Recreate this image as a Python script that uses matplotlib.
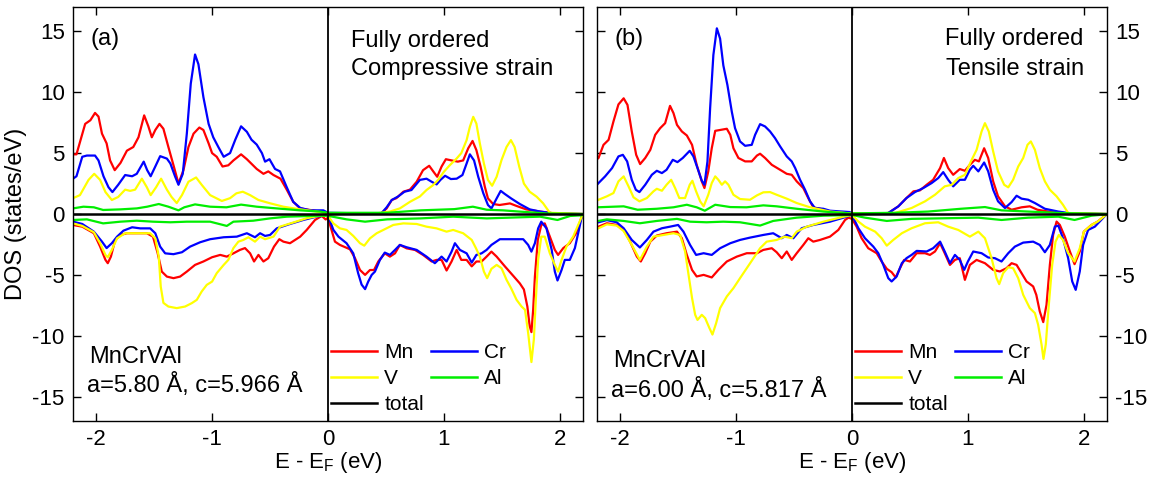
import matplotlib
matplotlib.use("Agg")
import matplotlib.pyplot as plt
from matplotlib.lines import Line2D

plt.rcParams['font.family'] = ['Liberation Sans', 'DejaVu Sans']
plt.rcParams['axes.unicode_minus'] = False
plt.rcParams['mathtext.default'] = 'regular'

# ---------------- data (E - EF in eV, DOS in states/eV) ----------------
A_MN_UP = [(-2.2,4.9),(-2.17,4.9),(-2.095,7.4),(-2.05,7.7),(-2.01,8.3),(-1.98,8.0),(-1.95,6.6),(-1.91,5.8),(-1.88,4.4),(-1.84,3.6),(-1.79,4.2),(-1.735,5.2),(-1.68,5.5),(-1.635,6.3),(-1.586,8.1),(-1.55,7.2),(-1.52,6.3),(-1.49,6.9),(-1.454,7.4),(-1.42,7.0),(-1.377,5.5),(-1.33,3.9),(-1.29,2.5),(-1.247,3.6),(-1.204,5.5),(-1.16,6.6),(-1.11,7.1),(-1.075,6.9),(-1.03,5.8),(-1.0,5.0),(-0.96,4.7),(-0.91,3.9),(-0.86,4.0),(-0.816,4.4),(-0.75,4.9),(-0.70,4.5),(-0.615,3.7),(-0.557,3.3),(-0.515,3.5),(-0.47,3.2),(-0.41,2.9),(-0.356,2.0),(-0.30,1.0),(-0.24,0.46),(-0.155,0.33),(-0.07,0.2),(0.0,0.05),(0.3,0.03),(0.46,0.05),(0.506,0.46),(0.55,1.15),(0.59,1.3),(0.65,1.83),(0.707,2.0),(0.765,2.65),(0.82,3.6),(0.873,3.96),(0.908,3.5),(0.942,3.06),(0.98,3.9),(1.017,4.5),(1.066,4.4),(1.12,4.3),(1.166,4.4),(1.21,5.4),(1.247,6.0),(1.28,5.25),(1.316,3.9),(1.353,2.24),(1.38,1.28),(1.425,0.82),(1.48,0.74),(1.57,0.87),(1.627,0.66),(1.71,0.38),(1.83,0.2),(1.95,0.05),(2.2,0.0)]
A_CR_UP = [(-2.2,2.9),(-2.17,3.1),(-2.12,4.7),(-2.08,4.8),(-2.01,4.8),(-1.98,4.4),(-1.937,3.1),(-1.894,2.2),(-1.86,1.8),(-1.81,2.4),(-1.75,3.2),(-1.69,3.1),(-1.65,3.3),(-1.59,4.3),(-1.56,3.6),(-1.53,3.1),(-1.49,3.9),(-1.448,4.75),(-1.39,4.55),(-1.36,4.15),(-1.32,3.1),(-1.29,2.4),(-1.253,3.3),(-1.218,6.6),(-1.184,10.7),(-1.147,13.1),(-1.118,12.3),(-1.075,9.6),(-1.03,7.4),(-0.99,6.3),(-0.946,5.5),(-0.90,4.7),(-0.845,5.0),(-0.80,6.1),(-0.75,7.2),(-0.70,6.75),(-0.66,6.1),(-0.615,5.7),(-0.57,5.0),(-0.543,4.3),(-0.505,4.5),(-0.457,3.7),(-0.414,3.5),(-0.356,2.2),(-0.30,1.0),(-0.24,0.5),(-0.155,0.3),(-0.04,0.3),(0.0,0.1),(0.3,0.05),(0.46,0.05),(0.506,0.55),(0.55,1.15),(0.605,1.44),(0.66,1.83),(0.72,1.97),(0.793,2.8),(0.85,2.9),(0.894,2.65),(0.937,2.43),(0.97,2.8),(1.01,3.14),(1.06,2.87),(1.11,2.9),(1.16,3.2),(1.196,4.15),(1.224,4.9),(1.26,4.4),(1.296,3.06),(1.34,1.7),(1.38,0.74),(1.41,0.46),(1.455,1.28),(1.49,1.9),(1.526,1.64),(1.58,1.28),(1.655,0.82),(1.74,0.38),(1.83,0.2),(1.95,0.05),(2.2,0.0)]
A_V_UP = [(-2.2,1.3),(-2.14,1.55),(-2.066,2.8),(-2.017,3.3),(-1.966,2.8),(-1.92,1.8),(-1.865,1.15),(-1.81,1.4),(-1.75,2.0),(-1.707,1.9),(-1.664,2.0),(-1.606,2.9),(-1.563,2.2),(-1.53,1.55),(-1.483,2.2),(-1.44,2.9),(-1.39,2.0),(-1.35,1.4),(-1.305,0.9),(-1.26,1.55),(-1.204,2.65),(-1.138,3.0),(-1.09,2.4),(-1.017,1.55),(-0.916,1.07),(-0.845,1.3),(-0.79,1.7),(-0.735,1.83),(-0.672,1.55),(-0.60,1.15),(-0.50,0.88),(-0.385,0.6),(-0.24,0.38),(-0.1,0.2),(0.0,0.05),(0.4,0.03),(0.534,0.2),(0.62,0.46),(0.707,1.0),(0.793,1.44),(0.85,1.97),(0.908,2.38),(0.95,2.8),(1.0,3.47),(1.05,4.0),(1.11,4.56),(1.15,5.0),(1.196,6.07),(1.224,7.16),(1.253,7.98),(1.28,7.43),(1.31,5.8),(1.345,4.15),(1.38,2.8),(1.416,2.32),(1.455,3.06),(1.497,4.43),(1.54,5.5),(1.578,6.07),(1.61,5.5),(1.65,3.88),(1.69,2.5),(1.74,1.83),(1.8,1.42),(1.856,0.88),(1.914,0.1),(2.2,0.0)]
A_AL_UP = [(-2.2,0.46),(-2.11,0.6),(-2.02,0.55),(-1.94,0.33),(-1.79,0.38),(-1.65,0.46),(-1.56,0.6),(-1.46,0.82),(-1.377,0.6),(-1.29,0.3),(-1.24,0.55),(-1.147,0.79),(-1.017,0.6),(-0.876,0.55),(-0.75,0.77),(-0.615,0.6),(-0.443,0.46),(-0.24,0.3),(-0.07,0.2),(0.0,0.1),(0.51,0.1),(0.8,0.3),(1.09,0.4),(1.25,0.6),(1.37,0.35),(1.51,0.3),(1.65,0.2),(1.88,0.05),(2.2,0.0)]
A_MN_DN = [(-2.2,-0.9),(-2.12,-1.04),(-2.02,-1.58),(-1.966,-2.68),(-1.92,-3.77),(-1.90,-4.04),(-1.873,-3.5),(-1.836,-2.13),(-1.79,-1.72),(-1.735,-1.58),(-1.65,-1.58),(-1.563,-1.58),(-1.51,-1.86),(-1.47,-3.2),(-1.434,-4.73),(-1.39,-5.14),(-1.333,-5.27),(-1.276,-5.14),(-1.218,-4.73),(-1.147,-4.18),(-1.075,-3.9),(-1.0,-3.55),(-0.93,-3.36),(-0.873,-3.5),(-0.816,-3.23),(-0.76,-2.95),(-0.716,-2.8),(-0.672,-3.23),(-0.638,-3.9),(-0.60,-3.36),(-0.557,-3.9),(-0.515,-3.63),(-0.466,-2.68),(-0.42,-2.07),(-0.385,-2.27),(-0.328,-2.4),(-0.24,-1.86),(-0.184,-1.31),(-0.112,-0.49),(-0.054,-0.16),(-0.02,-0.45),(0.0,-0.3),(0.03,-1.3),(0.06,-2.27),(0.103,-2.54),(0.19,-2.9),(0.233,-3.63),(0.276,-4.6),(0.32,-5.0),(0.362,-4.6),(0.397,-4.6),(0.434,-3.9),(0.49,-3.23),(0.534,-3.5),(0.578,-3.23),(0.62,-2.54),(0.678,-2.82),(0.75,-2.95),(0.82,-3.36),(0.894,-3.9),(0.937,-3.77),(0.98,-3.77),(1.023,-4.64),(1.066,-3.9),(1.11,-2.95),(1.15,-3.77),(1.196,-3.77),(1.24,-4.3),(1.28,-3.9),(1.325,-3.9),(1.368,-3.5),(1.41,-3.09),(1.455,-3.5),(1.526,-4.3),(1.6,-5.1),(1.655,-5.7),(1.69,-6.2),(1.72,-7.6),(1.74,-9.2),(1.755,-9.7),(1.77,-7.87),(1.785,-5.14),(1.81,-2.13),(1.84,-0.9),(1.87,-0.77),(1.914,-1.86),(1.957,-2.95),(1.985,-3.36),(2.03,-2.8),(2.086,-2.4),(2.14,-1.58),(2.19,-0.2)]
A_CR_DN = [(-2.2,-0.63),(-2.12,-0.82),(-2.02,-1.45),(-1.95,-2.27),(-1.91,-2.8),(-1.865,-2.4),(-1.82,-1.86),(-1.765,-1.37),(-1.69,-1.09),(-1.62,-1.18),(-1.534,-1.18),(-1.49,-1.58),(-1.448,-2.68),(-1.405,-3.23),(-1.333,-3.3),(-1.26,-3.14),(-1.19,-2.68),(-1.103,-2.32),(-1.017,-2.07),(-0.90,-1.91),(-0.787,-1.86),(-0.70,-1.58),(-0.63,-1.91),(-0.586,-1.58),(-0.543,-1.8),(-0.5,-1.72),(-0.442,-1.18),(-0.328,-0.82),(-0.213,-0.49),(-0.1,-0.22),(0.0,-0.1),(0.046,-1.3),(0.09,-1.86),(0.16,-2.4),(0.218,-3.23),(0.26,-4.86),(0.29,-5.8),(0.32,-6.17),(0.347,-5.55),(0.377,-5.0),(0.405,-4.73),(0.448,-3.77),(0.49,-3.17),(0.534,-3.36),(0.578,-2.95),(0.62,-2.54),(0.678,-2.73),(0.765,-2.95),(0.85,-3.5),(0.922,-4.04),(0.98,-3.5),(1.023,-3.9),(1.066,-3.09),(1.095,-2.4),(1.138,-2.95),(1.196,-3.23),(1.24,-3.99),(1.28,-3.36),(1.325,-3.23),(1.368,-2.95),(1.41,-2.54),(1.483,-2.07),(1.57,-2.07),(1.684,-2.07),(1.727,-2.54),(1.755,-3.09),(1.785,-2.4),(1.813,-1.18),(1.84,-0.63),(1.885,-1.18),(1.93,-2.95),(1.957,-4.73),(1.98,-5.46),(2.015,-4.6),(2.043,-3.77),(2.086,-3.77),(2.13,-2.8),(2.19,-0.2)]
A_V_DN = [(-2.2,-0.77),(-2.12,-0.98),(-2.02,-1.5),(-1.966,-2.4),(-1.92,-3.36),(-1.90,-3.55),(-1.865,-2.95),(-1.82,-2.0),(-1.75,-1.58),(-1.65,-1.58),(-1.534,-1.58),(-1.49,-2.0),(-1.46,-3.5),(-1.443,-5.96),(-1.42,-7.3),(-1.377,-7.6),(-1.305,-7.73),(-1.233,-7.6),(-1.175,-7.32),(-1.132,-7.05),(-1.09,-6.37),(-1.046,-5.82),(-1.0,-5.55),(-0.96,-4.86),(-0.9,-4.18),(-0.86,-3.77),(-0.816,-2.8),(-0.773,-2.27),(-0.73,-2.13),(-0.687,-1.91),(-0.63,-2.27),(-0.586,-1.86),(-0.543,-2.07),(-0.47,-1.86),(-0.414,-1.04),(-0.30,-0.7),(-0.184,-0.35),(-0.07,-0.14),(0.0,-0.15),(0.046,-0.77),(0.103,-1.18),(0.16,-1.31),(0.218,-1.8),(0.276,-2.4),(0.313,-2.6),(0.362,-2.0),(0.42,-1.58),(0.477,-1.31),(0.563,-0.9),(0.65,-0.77),(0.765,-0.82),(0.85,-1.04),(0.937,-1.18),(1.023,-1.45),(1.08,-1.31),(1.166,-1.58),(1.24,-2.13),(1.276,-2.8),(1.31,-3.5),(1.345,-4.73),(1.373,-5.27),(1.41,-4.5),(1.455,-4.18),(1.497,-4.45),(1.54,-5.4),(1.58,-6.1),(1.627,-7.05),(1.67,-7.6),(1.7,-7.87),(1.727,-9.78),(1.755,-12.16),(1.776,-10.3),(1.793,-7.05),(1.813,-3.77),(1.84,-1.86),(1.87,-1.86),(1.914,-3.23),(1.957,-4.18),(1.985,-4.73),(2.015,-3.77),(2.057,-2.68),(2.115,-1.86),(2.19,-0.2)]
A_AL_DN = [(-2.2,-0.49),(-2.08,-0.44),(-1.94,-0.77),(-1.79,-0.63),(-1.65,-0.55),(-1.51,-0.63),(-1.36,-0.68),(-1.218,-0.63),(-1.017,-0.63),(-0.873,-0.98),(-0.816,-0.63),(-0.645,-0.55),(-0.5,-0.36),(-0.356,-0.22),(-0.07,-0.14),(0.0,-0.15),(0.16,-0.44),(0.32,-0.63),(0.51,-0.44),(0.8,-0.36),(1.08,-0.22),(1.37,-0.36),(1.66,-0.27),(1.83,-0.22),(1.98,-0.49),(2.09,-0.16),(2.2,-0.1)]

B_MN_UP = [(-2.2,4.5),(-2.187,4.6),(-2.144,5.68),(-2.10,6.09),(-2.058,7.6),(-2.015,9.0),(-1.97,9.5),(-1.937,8.96),(-1.9,6.78),(-1.862,4.86),(-1.828,4.1),(-1.784,4.6),(-1.74,5.27),(-1.698,6.5),(-1.655,7.05),(-1.612,7.46),(-1.57,8.88),(-1.54,8.28),(-1.51,7.32),(-1.468,6.78),(-1.425,6.45),(-1.38,5.68),(-1.34,4.04),(-1.296,2.68),(-1.273,2.13),(-1.24,3.5),(-1.21,5.4),(-1.18,6.83),(-1.138,6.9),(-1.08,7.0),(-1.05,6.5),(-1.023,5.4),(-0.98,4.6),(-0.922,4.32),(-0.865,4.32),(-0.82,4.8),(-0.793,4.95),(-0.75,4.6),(-0.692,4.04),(-0.62,3.63),(-0.563,3.3),(-0.52,3.22),(-0.477,2.68),(-0.42,2.13),(-0.377,1.3),(-0.334,0.55),(-0.276,0.43),(-0.19,0.2),(-0.02,0.1),(0.0,0.05),(0.2,0.03),(0.313,0.08),(0.4,0.63),(0.47,1.31),(0.53,1.86),(0.586,1.94),(0.644,2.4),(0.7,2.81),(0.76,3.77),(0.793,4.6),(0.83,3.77),(0.873,3.22),(0.93,3.69),(0.974,3.55),(1.017,4.04),(1.06,4.45),(1.095,4.32),(1.14,5.4),(1.175,4.6),(1.218,2.68),(1.26,1.45),(1.32,0.63),(1.377,0.35),(1.463,0.55),(1.534,0.63),(1.6,0.35),(1.72,0.16),(1.86,0.05),(2.2,0.0)]
B_CR_UP = [(-2.2,2.4),(-2.187,2.54),(-2.13,3.09),(-2.07,3.77),(-2.015,4.73),(-1.977,4.86),(-1.94,4.32),(-1.9,2.81),(-1.865,1.99),(-1.834,1.8),(-1.784,2.4),(-1.727,3.22),(-1.684,3.55),(-1.64,3.36),(-1.6,3.63),(-1.546,4.45),(-1.506,4.26),(-1.46,4.6),(-1.4,5.19),(-1.368,4.73),(-1.333,3.77),(-1.296,2.73),(-1.273,2.4),(-1.247,4.32),(-1.224,8.69),(-1.196,13.06),(-1.166,15.25),(-1.138,14.4),(-1.11,12.2),(-1.075,10.6),(-1.037,8.4),(-1.009,7.05),(-0.966,5.96),(-0.922,5.6),(-0.865,5.68),(-0.836,6.5),(-0.793,7.38),(-0.75,7.19),(-0.707,6.78),(-0.664,6.23),(-0.62,5.55),(-0.563,4.73),(-0.52,4.32),(-0.49,3.77),(-0.448,2.81),(-0.405,1.99),(-0.362,1.04),(-0.32,0.49),(-0.247,0.43),(-0.19,0.27),(-0.02,0.16),(0.0,0.05),(0.2,0.03),(0.313,0.08),(0.4,0.63),(0.47,1.31),(0.543,1.8),(0.615,2.13),(0.687,2.54),(0.744,2.95),(0.787,3.44),(0.83,2.81),(0.873,2.27),(0.93,2.81),(0.974,2.81),(1.017,3.63),(1.046,3.96),(1.09,3.5),(1.14,4.23),(1.175,3.5),(1.218,1.99),(1.26,1.04),(1.32,0.49),(1.377,0.98),(1.42,1.5),(1.463,1.26),(1.52,1.17),(1.578,0.9),(1.664,0.43),(1.78,0.2),(1.89,0.05),(2.2,0.0)]
B_V_UP = [(-2.2,1.1),(-2.187,1.17),(-2.115,1.45),(-2.058,1.72),(-2.015,2.68),(-1.97,3.09),(-1.928,2.27),(-1.885,1.37),(-1.834,1.04),(-1.77,1.31),(-1.713,1.86),(-1.684,2.07),(-1.64,1.91),(-1.6,2.4),(-1.56,2.81),(-1.526,2.13),(-1.49,1.31),(-1.44,1.31),(-1.4,2.4),(-1.377,2.73),(-1.345,1.86),(-1.31,1.04),(-1.28,0.63),(-1.24,1.58),(-1.21,2.54),(-1.18,3.09),(-1.153,2.81),(-1.123,2.4),(-1.095,2.68),(-1.066,2.4),(-1.023,1.58),(-0.966,1.23),(-0.88,1.17),(-0.82,1.53),(-0.765,1.78),(-0.707,1.8),(-0.65,1.58),(-0.563,1.26),(-0.477,0.9),(-0.362,0.55),(-0.19,0.2),(-0.02,0.05),(0.37,0.08),(0.514,0.49),(0.63,1.04),(0.716,1.58),(0.8,2.27),(0.86,2.4),(0.917,2.95),(0.974,3.22),(1.026,4.32),(1.075,5.27),(1.118,6.78),(1.147,7.46),(1.18,6.78),(1.218,5.14),(1.26,3.5),(1.313,2.4),(1.348,2.19),(1.39,2.81),(1.434,3.9),(1.477,4.6),(1.514,5.68),(1.543,5.96),(1.578,5.27),(1.62,3.77),(1.664,2.68),(1.707,1.99),(1.765,1.45),(1.82,0.76),(1.865,0.08),(2.2,0.0)]
B_AL_UP = [(-2.2,0.55),(-1.97,0.63),(-1.85,0.35),(-1.684,0.43),(-1.54,0.55),(-1.425,0.76),(-1.34,0.55),(-1.27,0.27),(-1.18,0.76),(-1.05,0.57),(-0.91,0.55),(-0.765,0.71),(-0.65,0.63),(-0.477,0.43),(-0.247,0.2),(-0.02,0.05),(0.37,0.1),(0.655,0.2),(0.94,0.43),(1.147,0.57),(1.29,0.3),(1.52,0.2),(1.8,0.08),(2.2,0.0)]
B_MN_DN = [(-2.2,-1.1),(-2.187,-1.04),(-2.115,-0.76),(-2.03,-0.9),(-1.97,-1.31),(-1.914,-2.27),(-1.856,-3.5),(-1.822,-3.9),(-1.784,-3.22),(-1.74,-2.27),(-1.684,-1.77),(-1.6,-1.58),(-1.51,-1.45),(-1.468,-1.99),(-1.425,-3.36),(-1.38,-4.59),(-1.34,-5.13),(-1.28,-5.0),(-1.21,-5.21),(-1.153,-4.59),(-1.08,-3.9),(-0.994,-3.5),(-0.908,-3.22),(-0.82,-3.22),(-0.765,-2.95),(-0.692,-2.81),(-0.65,-3.14),(-0.606,-3.63),(-0.563,-3.08),(-0.52,-3.77),(-0.477,-3.22),(-0.42,-2.54),(-0.377,-1.99),(-0.334,-2.27),(-0.276,-2.13),(-0.19,-1.86),(-0.118,-1.31),(-0.06,-0.49),(-0.03,-0.3),(0.0,-0.4),(0.04,-1.04),(0.083,-1.99),(0.14,-2.81),(0.213,-3.22),(0.256,-3.9),(0.3,-4.5),(0.342,-4.78),(0.377,-5.21),(0.414,-4.45),(0.45,-3.77),(0.5,-3.9),(0.558,-3.22),(0.63,-3.22),(0.672,-3.36),(0.716,-3.08),(0.76,-2.4),(0.8,-3.22),(0.845,-4.18),(0.888,-3.77),(0.93,-3.63),(0.974,-5.41),(1.017,-4.18),(1.075,-3.77),(1.147,-4.04),(1.218,-4.59),(1.276,-4.72),(1.333,-4.45),(1.377,-4.04),(1.42,-4.18),(1.463,-4.86),(1.506,-5.54),(1.563,-5.95),(1.59,-6.64),(1.62,-8.0),(1.65,-8.88),(1.678,-7.46),(1.707,-4.18),(1.735,-1.72),(1.765,-0.62),(1.793,-0.9),(1.836,-1.86),(1.88,-3.08),(1.92,-4.12),(1.965,-3.08),(2.0,-1.45),(2.066,-0.9),(2.12,-0.62),(2.19,-0.08)]
B_CR_DN = [(-2.2,-0.7),(-2.187,-0.68),(-2.115,-0.5),(-2.03,-0.68),(-1.97,-1.17),(-1.9,-2.13),(-1.83,-2.75),(-1.77,-2.13),(-1.713,-1.45),(-1.64,-1.17),(-1.57,-1.04),(-1.5,-0.9),(-1.454,-1.45),(-1.397,-2.54),(-1.345,-3.36),(-1.28,-3.22),(-1.21,-3.36),(-1.138,-2.81),(-1.05,-2.4),(-0.966,-2.13),(-0.88,-1.94),(-0.765,-1.72),(-0.68,-1.58),(-0.606,-1.99),(-0.563,-1.72),(-0.506,-1.99),(-0.434,-1.17),(-0.334,-0.9),(-0.19,-0.63),(-0.045,-0.22),(0.0,-0.08),(0.055,-1.17),(0.112,-1.99),(0.184,-2.68),(0.227,-3.22),(0.27,-4.18),(0.313,-5.27),(0.342,-5.54),(0.385,-5.13),(0.43,-4.04),(0.47,-3.63),(0.514,-3.36),(0.558,-3.03),(0.644,-3.08),(0.7,-2.81),(0.76,-2.27),(0.8,-3.08),(0.845,-4.04),(0.888,-3.36),(0.93,-3.77),(0.968,-4.59),(1.0,-3.9),(1.046,-3.08),(1.118,-3.22),(1.175,-3.57),(1.233,-3.63),(1.29,-3.9),(1.348,-3.22),(1.405,-2.68),(1.477,-2.35),(1.563,-2.27),(1.62,-2.54),(1.664,-3.14),(1.707,-2.54),(1.75,-1.04),(1.78,-0.95),(1.82,-1.99),(1.865,-3.63),(1.9,-5.54),(1.93,-6.23),(1.965,-4.72),(1.994,-2.54),(2.037,-1.31),(2.095,-1.04),(2.15,-0.49),(2.19,-0.08)]
B_V_DN = [(-2.2,-1.2),(-2.187,-1.17),(-2.115,-0.85),(-2.03,-0.95),(-1.97,-1.4),(-1.9,-2.54),(-1.83,-3.77),(-1.77,-2.68),(-1.713,-1.86),(-1.625,-1.72),(-1.54,-1.58),(-1.483,-1.72),(-1.44,-3.08),(-1.41,-5.0),(-1.38,-6.9),(-1.353,-8.28),(-1.333,-8.7),(-1.296,-8.28),(-1.267,-8.55),(-1.23,-9.37),(-1.204,-9.9),(-1.172,-8.96),(-1.138,-7.73),(-1.08,-6.77),(-1.023,-6.09),(-0.966,-5.27),(-0.908,-4.45),(-0.85,-3.63),(-0.793,-2.81),(-0.736,-2.27),(-0.65,-2.13),(-0.58,-1.86),(-0.52,-1.99),(-0.477,-1.45),(-0.39,-1.04),(-0.247,-0.63),(-0.07,-0.22),(0.0,-0.08),(0.055,-0.62),(0.112,-1.04),(0.2,-1.45),(0.256,-1.99),(0.3,-2.6),(0.356,-2.13),(0.43,-1.58),(0.514,-1.17),(0.63,-0.76),(0.744,-0.68),(0.83,-1.04),(0.917,-1.31),(1.017,-1.86),(1.09,-1.45),(1.147,-1.99),(1.204,-3.63),(1.247,-5.27),(1.27,-5.76),(1.304,-4.86),(1.348,-4.37),(1.39,-4.45),(1.434,-5.27),(1.477,-6.64),(1.534,-7.73),(1.578,-8.14),(1.606,-9.1),(1.635,-10.7),(1.652,-11.9),(1.672,-10.7),(1.698,-7.46),(1.727,-4.18),(1.756,-2.27),(1.784,-1.72),(1.82,-2.13),(1.865,-3.22),(1.92,-3.9),(1.965,-2.81),(2.0,-1.45),(2.066,-0.9),(2.12,-0.62),(2.19,-0.08)]
B_AL_DN = [(-2.2,-0.6),(-2.187,-0.57),(-2.115,-0.44),(-1.97,-0.57),(-1.83,-0.76),(-1.684,-0.57),(-1.51,-0.4),(-1.397,-0.63),(-1.255,-0.68),(-1.11,-0.63),(-0.966,-0.68),(-0.793,-0.95),(-0.68,-0.57),(-0.477,-0.3),(-0.247,-0.14),(0.0,-0.08),(0.112,-0.3),(0.3,-0.57),(0.514,-0.4),(0.8,-0.35),(1.09,-0.3),(1.29,-0.49),(1.52,-0.3),(1.78,-0.22),(1.92,-0.49),(2.066,-0.14),(2.19,-0.03)]

ELEMENTS = ['Mn', 'Cr', 'V', 'Al']
COLORS = {'Mn': '#ff0000', 'Cr': '#0000ff', 'V': '#ffff00', 'Al': '#00ee00'}
X_TICKS = [-2, -1, 0, 1, 2]
Y_TICKS = [-15, -10, -5, 0, 5, 10, 15]

PANELS = [
    dict(tag='(a)', title=['Fully ordered', 'Compressive strain'], title_ha='left', title_x=0.2,
         title_y=[13.7, 11.4], comp_y=[-12.2, -14.6],
         params='a=5.80 Å, c=5.966 Å',
         curves={'Mn': (A_MN_UP, A_MN_DN), 'Cr': (A_CR_UP, A_CR_DN),
                 'V': (A_V_UP, A_V_DN), 'Al': (A_AL_UP, A_AL_DN)}),
    dict(tag='(b)', title=['Fully ordered', 'Tensile strain'], title_ha='right', title_x=2.0,
         title_y=[13.9, 11.4], comp_y=[-12.6, -15.0],
         params='a=6.00 Å, c=5.817 Å',
         curves={'Mn': (B_MN_UP, B_MN_DN), 'Cr': (B_CR_UP, B_CR_DN),
                 'V': (B_V_UP, B_V_DN), 'Al': (B_AL_UP, B_AL_DN)}),
]

W, H = 1158, 490
fig = plt.figure(figsize=(W / 100, H / 100), dpi=100)
axes = [fig.add_axes([73 / W, 69 / H, 510 / W, 414 / H]),
        fig.add_axes([597 / W, 69 / H, 510 / W, 414 / H])]

for i, (ax, p) in enumerate(zip(axes, PANELS)):
    for el in ELEMENTS:
        for pts in p['curves'][el]:
            xs = [q[0] for q in pts]
            ys = [q[1] for q in pts]
            ax.plot(xs, ys, color=COLORS[el], lw=1.6, solid_joinstyle='round', zorder=2)
    ax.axhline(0, color='black', lw=1.8, zorder=3)
    ax.axvline(0, color='black', lw=1.3, zorder=3)
    ax.set_xlim(-2.2, 2.2)
    ax.set_ylim(-17, 17)
    ax.set_xticks(X_TICKS)
    ax.set_yticks(Y_TICKS)
    ax.tick_params(direction='in', top=True, right=True, left=True, bottom=True,
                   length=6, width=1, labelsize=16, pad=6)
    if i == 1:
        ax.tick_params(labelleft=False, labelright=True)
    for s in ax.spines.values():
        s.set_linewidth(1.0)
    ax.set_xlabel(r'E - E$_F$ (eV)', fontsize=16, labelpad=0)

    ax.text(-2.05, 14.4, p['tag'], fontsize=17, ha='left', va='center')
    for line, yy in zip(p['title'], p['title_y']):
        ax.text(p['title_x'], yy, line, fontsize=17, ha=p['title_ha'], va='baseline')
    ax.text(-2.06, p['comp_y'][0], 'MnCrVAl', fontsize=17, ha='left', va='baseline')
    ax.text(-2.08, p['comp_y'][1], p['params'], fontsize=17, ha='left', va='baseline')

    handles = [Line2D([], [], color=COLORS['Mn'], lw=1.8),
               Line2D([], [], color=COLORS['V'], lw=1.8),
               Line2D([], [], color='black', lw=1.8),
               Line2D([], [], color=COLORS['Cr'], lw=1.8),
               Line2D([], [], color=COLORS['Al'], lw=1.8)]
    labels = ['Mn', 'V', 'total', 'Cr', 'Al']
    ax.legend(handles, labels, ncol=2, loc='upper left', bbox_to_anchor=(0.506, 0.188),
              frameon=False, fontsize=15, handlelength=2.2, handletextpad=0.35,
              columnspacing=0.35, labelspacing=0.33, borderpad=0, borderaxespad=0)

axes[0].set_ylabel('DOS (states/eV)', fontsize=17, labelpad=4)

fig.savefig('out.png', dpi=100)
